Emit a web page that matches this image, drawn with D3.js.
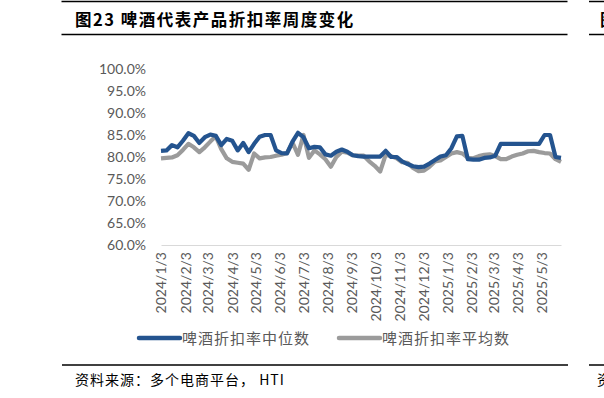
<!DOCTYPE html>
<html>
<head>
<meta charset="utf-8">
<script src="https://cdn.jsdelivr.net/npm/d3@7"></script>
<style>
  body { margin: 0; background: #fff; }
  svg { display: block; }
</style>
</head>
<body>
<svg id="chart"></svg>
<script>
    // Weekly data, first week 2024/1/3
    const startDate = new Date(2024, 0, 3);

    const medianValues = [
      81.4, 81.5, 82.7, 82.2, 83.7, 85.4, 84.8, 83.2, 84.5, 85.1,
      84.8, 82.7, 84.1, 83.7, 81.5, 83.2, 81.1, 83.0, 84.6, 85.0,
      85.0, 81.5, 80.9, 80.8, 83.5, 85.5, 84.5, 82.0, 82.3, 82.2,
      80.6, 80.3, 81.2, 81.7, 81.2, 80.4, 80.2, 80.1, 80.1, 80.1,
      80.1, 81.4, 80.0, 80.0, 79.0, 78.4, 77.9, 77.7, 77.8, 78.5,
      79.3, 80.1, 80.4, 82.0, 84.7, 84.8, 79.5, 79.4, 79.4, 79.8,
      79.9, 80.3, 83.0, 83.0, 83.0, 83.0, 83.0, 83.0, 83.0, 83.0,
      85.0, 85.0, 80.0, 79.8
    ];

    const meanValues = [
      79.7, 79.8, 79.9, 80.4, 81.6, 83.0, 82.2, 81.1, 82.2, 83.5,
      84.7, 81.8, 79.7, 78.9, 78.7, 78.5, 77.1, 80.8, 79.7, 79.9,
      80.0, 80.3, 80.5, 80.9, 83.3, 80.5, 85.0, 79.8, 81.5, 80.6,
      79.5, 77.8, 80.0, 81.2, 81.0, 80.4, 80.3, 80.3, 79.0, 78.0,
      76.7, 80.5, 80.2, 79.7, 78.8, 78.7, 77.5, 76.8, 76.9, 77.8,
      79.0, 79.2, 80.0, 80.8, 81.1, 80.8, 79.8, 79.7, 80.2, 80.5,
      80.6, 80.2, 79.5, 79.5, 80.1, 80.5, 80.8, 81.3, 81.4, 81.1,
      80.9, 80.8, 79.5, 78.9
    ];

    const seriesNames = ["啤酒折扣率中位数", "啤酒折扣率平均数"];
    const seriesColors = ["#24548F", "#9B9B9B"];

    const tickLabels = [
      "2024/1/3", "2024/2/3", "2024/3/3", "2024/4/3", "2024/5/3", "2024/6/3",
      "2024/7/3", "2024/8/3", "2024/9/3", "2024/10/3", "2024/11/3", "2024/12/3",
      "2025/1/3", "2025/2/3", "2025/3/3", "2025/4/3", "2025/5/3"
    ];

    const yTicks = [0.60, 0.65, 0.70, 0.75, 0.80, 0.85, 0.90, 0.95, 1.00];

    const W = 604, H = 398;
    const svg = d3.select("#chart").attr("width", W).attr("height", H);

    const numFont = "Lato, 'Open Sans', sans-serif";
    const cjkFont = "'Noto Sans CJK SC', sans-serif";
    const textGray = "#595959";

    // frame lines and title
    const frame = [
      [61.5, 567.5, 1.5], [589, 604, 1.5],
      [61.5, 567.5, 34.5], [589, 604, 34.5],
      [62, 568, 365], [589, 604, 365]
    ];
    svg.selectAll("line.frame")
      .data(frame)
      .join("line")
      .attr("class", "frame")
      .attr("x1", d => d[0]).attr("x2", d => d[1])
      .attr("y1", d => d[2]).attr("y2", d => d[2])
      .attr("stroke", "#000")
      .attr("stroke-width", 1.5);

    svg.append("text")
      .attr("x", 75).attr("y", 26)
      .attr("font-family", cjkFont)
      .attr("font-weight", "bold")
      .attr("font-size", 16.5)
      .attr("letter-spacing", 1.5)
      .attr("fill", "#000")
      .text("图23 啤酒代表产品折扣率周度变化");

    // neighbouring panel, cut by the page edge as in the source
    svg.append("text")
      .attr("x", 600).attr("y", 26)
      .attr("font-family", cjkFont)
      .attr("font-weight", "bold")
      .attr("font-size", 16.5)
      .text("图");

    svg.append("text")
      .attr("x", 75).attr("y", 385)
      .attr("font-family", cjkFont)
      .attr("font-size", 14)
      .attr("letter-spacing", 1)
      .attr("fill", "#000")
      .text("资料来源：多个电商平台， HTI");

    svg.append("text")
      .attr("x", 597).attr("y", 385)
      .attr("font-family", cjkFont)
      .attr("font-size", 14)
      .text("资");

    // scales
    const dates = medianValues.map((d, i) => d3.timeDay.offset(startDate, i * 7));
    const tickDates = tickLabels.map(s => {
      const p = s.split("/");
      return new Date(+p[0], +p[1] - 1, +p[2]);
    });

    const x = d3.scaleTime()
      .domain([dates[0], dates[dates.length - 1]])
      .range([161, 561]);

    const y = d3.scaleLinear()
      .domain([0.6, 1.0])
      .range([245, 69]);

    // Y axis
    const yAxis = svg.append("g")
      .attr("transform", "translate(150,0)")
      .call(d3.axisLeft(y).tickValues(yTicks).tickFormat(d3.format(".1%")).tickSize(0).tickPadding(4));
    yAxis.select(".domain").remove();
    yAxis.selectAll("text")
      .attr("font-family", numFont)
      .attr("font-size", 14)
      .attr("fill", textGray);

    // X axis
    const xAxis = svg.append("g")
      .attr("transform", "translate(0,245)")
      .call(d3.axisBottom(x).tickValues(tickDates).tickFormat((d, i) => tickLabels[i]).tickSize(0));
    xAxis.select(".domain")
      .attr("stroke", "#D9D9D9")
      .attr("stroke-width", 1.2);
    xAxis.selectAll("text")
      .attr("font-family", numFont)
      .attr("font-size", 14)
      .attr("fill", textGray)
      .attr("text-anchor", "end")
      .attr("transform", "translate(0,7) rotate(-90)")
      .attr("x", 0)
      .attr("y", 0)
      .attr("dy", "0.35em");

    // lines
    const line = d3.line()
      .x((d, i) => x(dates[i]))
      .y(d => y(d / 100));

    [meanValues, medianValues].forEach((vals, k) => {
      svg.append("path")
        .datum(vals)
        .attr("fill", "none")
        .attr("stroke", seriesColors[1 - k])
        .attr("stroke-width", 4.2)
        .attr("stroke-linejoin", "round")
        .attr("d", line);
    });

    // legend
    const legendX = [139, 339];
    seriesNames.forEach((name, i) => {
      const g = svg.append("g").attr("transform", `translate(${legendX[i]},338)`);
      g.append("line")
        .attr("x1", 0).attr("x2", 41)
        .attr("y1", 0).attr("y2", 0)
        .attr("stroke", seriesColors[i])
        .attr("stroke-width", 4.5)
        .attr("stroke-linecap", "round");
      g.append("text")
        .attr("x", 43).attr("y", 5.5)
        .attr("font-family", cjkFont)
        .attr("font-size", 15)
        .attr("letter-spacing", 1)
        .attr("fill", textGray)
        .text(name);
    });
</script>
</body>
</html>
